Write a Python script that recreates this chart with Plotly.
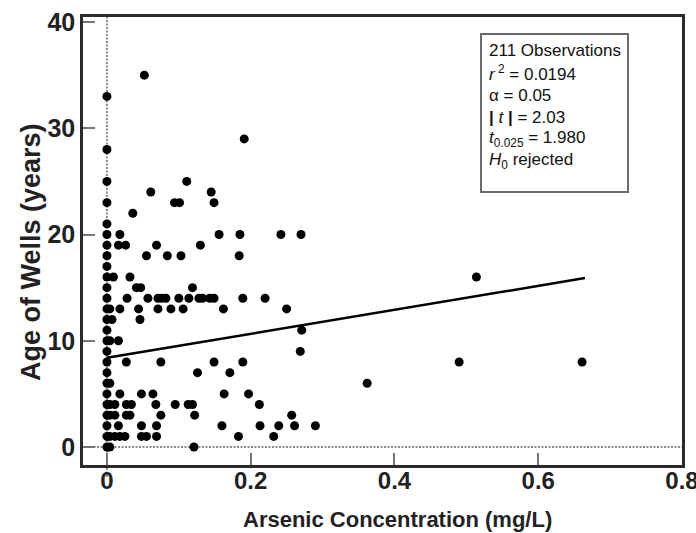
import plotly.graph_objects as go

# ---- data ----
zero_col_age = [0, 1, 2, 3, 4, 5, 6, 7, 8, 9, 10, 11, 12, 13, 14, 15, 16, 17, 18, 19, 20, 21, 23, 25, 28, 33]

other_arsenic = [
    0.052,
    0.191,
    0.111,
    0.061, 0.145,
    0.094, 0.101, 0.149,
    0.036,
    0.018, 0.156, 0.185, 0.242, 0.270,
    0.016, 0.026, 0.069, 0.130,
    0.055, 0.084, 0.103, 0.184,
    0.009, 0.032, 0.514,
    0.041, 0.047, 0.119,
    0.028, 0.057, 0.071, 0.076, 0.082, 0.100, 0.114, 0.128, 0.133, 0.143, 0.149, 0.189, 0.220,
    0.004, 0.018, 0.044, 0.071, 0.089, 0.106, 0.162, 0.250,
    0.007, 0.046,
    0.271,
    0.004, 0.016,
    0.269,
    0.027, 0.075, 0.149, 0.189, 0.490, 0.661,
    0.126, 0.171,
    0.004, 0.362,
    0.018, 0.048, 0.064, 0.163, 0.197,
    0.004, 0.011, 0.027, 0.034, 0.068, 0.095, 0.113, 0.119, 0.212,
    0.004, 0.011, 0.027, 0.032, 0.075, 0.122, 0.257,
    0.016, 0.048, 0.069, 0.160, 0.213, 0.239, 0.261, 0.290,
    0.004, 0.011, 0.018, 0.025, 0.048, 0.055, 0.069, 0.183, 0.232,
    0.004, 0.121,
]
other_age = [
    35,
    29,
    25,
    24, 24,
    23, 23, 23,
    22,
    20, 20, 20, 20, 20,
    19, 19, 19, 19,
    18, 18, 18, 18,
    16, 16, 16,
    15, 15, 15,
    14, 14, 14, 14, 14, 14, 14, 14, 14, 14, 14, 14, 14,
    13, 13, 13, 13, 13, 13, 13, 13,
    12, 12,
    11,
    10, 10,
    9,
    8, 8, 8, 8, 8, 8,
    7, 7,
    6, 6,
    5, 5, 5, 5, 5,
    4, 4, 4, 4, 4, 4, 4, 4, 4,
    3, 3, 3, 3, 3, 3, 3,
    2, 2, 2, 2, 2, 2, 2, 2,
    1, 1, 1, 1, 1, 1, 1, 1, 1,
    0, 0,
]

arsenic = [0.0] * len(zero_col_age) + other_arsenic
age = zero_col_age + other_age

# regression line end points
reg_x = [0.0, 0.665]
reg_y = [8.4, 15.9]

x_ticks = [0, 0.2, 0.4, 0.6, 0.8]
x_tick_text = ["0", "0.2", "0.4", "0.6", "0.8"]
y_ticks = [0, 10, 20, 30, 40]

stats_lines = [
    "211 Observations",
    "<i>r</i><sup> 2</sup> = 0.0194",
    "\u03b1 = 0.05",
    "<b>|</b> <i>t</i> <b>|</b> = 2.03",
    "<i>t</i><sub>0.025</sub> = 1.980",
    "<i>H</i><sub>0</sub> rejected",
]

# ---- figure ----
W, H = 696, 533
ML, MR, MT, MB = 83, 14, 17, 68
PW, PH = W - ML - MR, H - MT - MB


def px_x(p):
    return (p - ML) / PW


def px_y(p):
    return (H - MB - p) / PH


fig = go.Figure()

fig.add_trace(go.Scatter(
    x=reg_x, y=reg_y, mode="lines",
    line=dict(color="black", width=2.5), hoverinfo="skip", showlegend=False,
))
fig.add_trace(go.Scatter(
    x=arsenic, y=age, mode="markers",
    marker=dict(color="black", size=9, line=dict(width=0)),
    showlegend=False,
))

# dotted reference lines at x=0 and y=0
fig.add_shape(type="line", xref="x", yref="paper", x0=0, x1=0, y0=-0.027, y1=1,
              line=dict(color="#8a8a8a", width=2, dash="2px,1.5px"), layer="below")
fig.add_shape(type="line", xref="paper", yref="y", x0=0, x1=1, y0=0, y1=0,
              line=dict(color="#8a8a8a", width=2, dash="2px,1.5px"), layer="below")

# statistics box
fig.add_shape(type="rect", xref="paper", yref="paper",
              x0=px_x(481), x1=px_x(628), y0=px_y(192), y1=px_y(34),
              line=dict(color="#6a6a6a", width=2), fillcolor="white", layer="below")
line_centers = [51, 73, 95, 117, 139, 161]
for txt, yc in zip(stats_lines, line_centers):
    fig.add_annotation(text=txt, xref="paper", yref="paper", x=px_x(487), y=px_y(yc),
                       xanchor="left", yanchor="middle", showarrow=False,
                       font=dict(family="Liberation Sans, Arial", size=17, color="#111"))

# axis titles
fig.add_annotation(text="Arsenic Concentration (mg/L)", xref="paper", yref="paper",
                   x=px_x(397), y=px_y(519), xanchor="center", yanchor="middle",
                   showarrow=False,
                   font=dict(family="Liberation Sans, Arial", size=22, color="#222", weight="bold"))
fig.add_annotation(text="Age of Wells (years)", xref="paper", yref="paper",
                   x=px_x(31), y=px_y(252), xanchor="center", yanchor="middle",
                   textangle=-90, showarrow=False,
                   font=dict(family="Liberation Sans, Arial", size=27, color="#222", weight="bold"))

axis_common = dict(
    showline=True, linecolor="#2a2a2a", linewidth=2.5, mirror=True,
    ticks="inside", ticklen=12, tickwidth=2, tickcolor="#777",
    showgrid=False, zeroline=False, automargin=False,
)

fig.update_xaxes(range=[-0.0333, 0.8], tickvals=x_ticks, ticktext=x_tick_text,
                 ticklabeloverflow="allow", ticklabelstandoff=-8,
                 tickfont=dict(family="Liberation Sans, Arial", size=24,
                               color="#222", weight="bold"),
                 **axis_common)
fig.update_yaxes(range=[-1.69, 40.47], tickvals=y_ticks,
                 tickfont=dict(family="Liberation Sans, Arial", size=25,
                               color="#222", weight="bold"),
                 **axis_common)

fig.update_layout(
    width=W, height=H,
    margin=dict(l=ML, r=MR, t=MT, b=MB, autoexpand=False),
    paper_bgcolor="white", plot_bgcolor="white",
    showlegend=False,
)

fig.write_html("out.html")
